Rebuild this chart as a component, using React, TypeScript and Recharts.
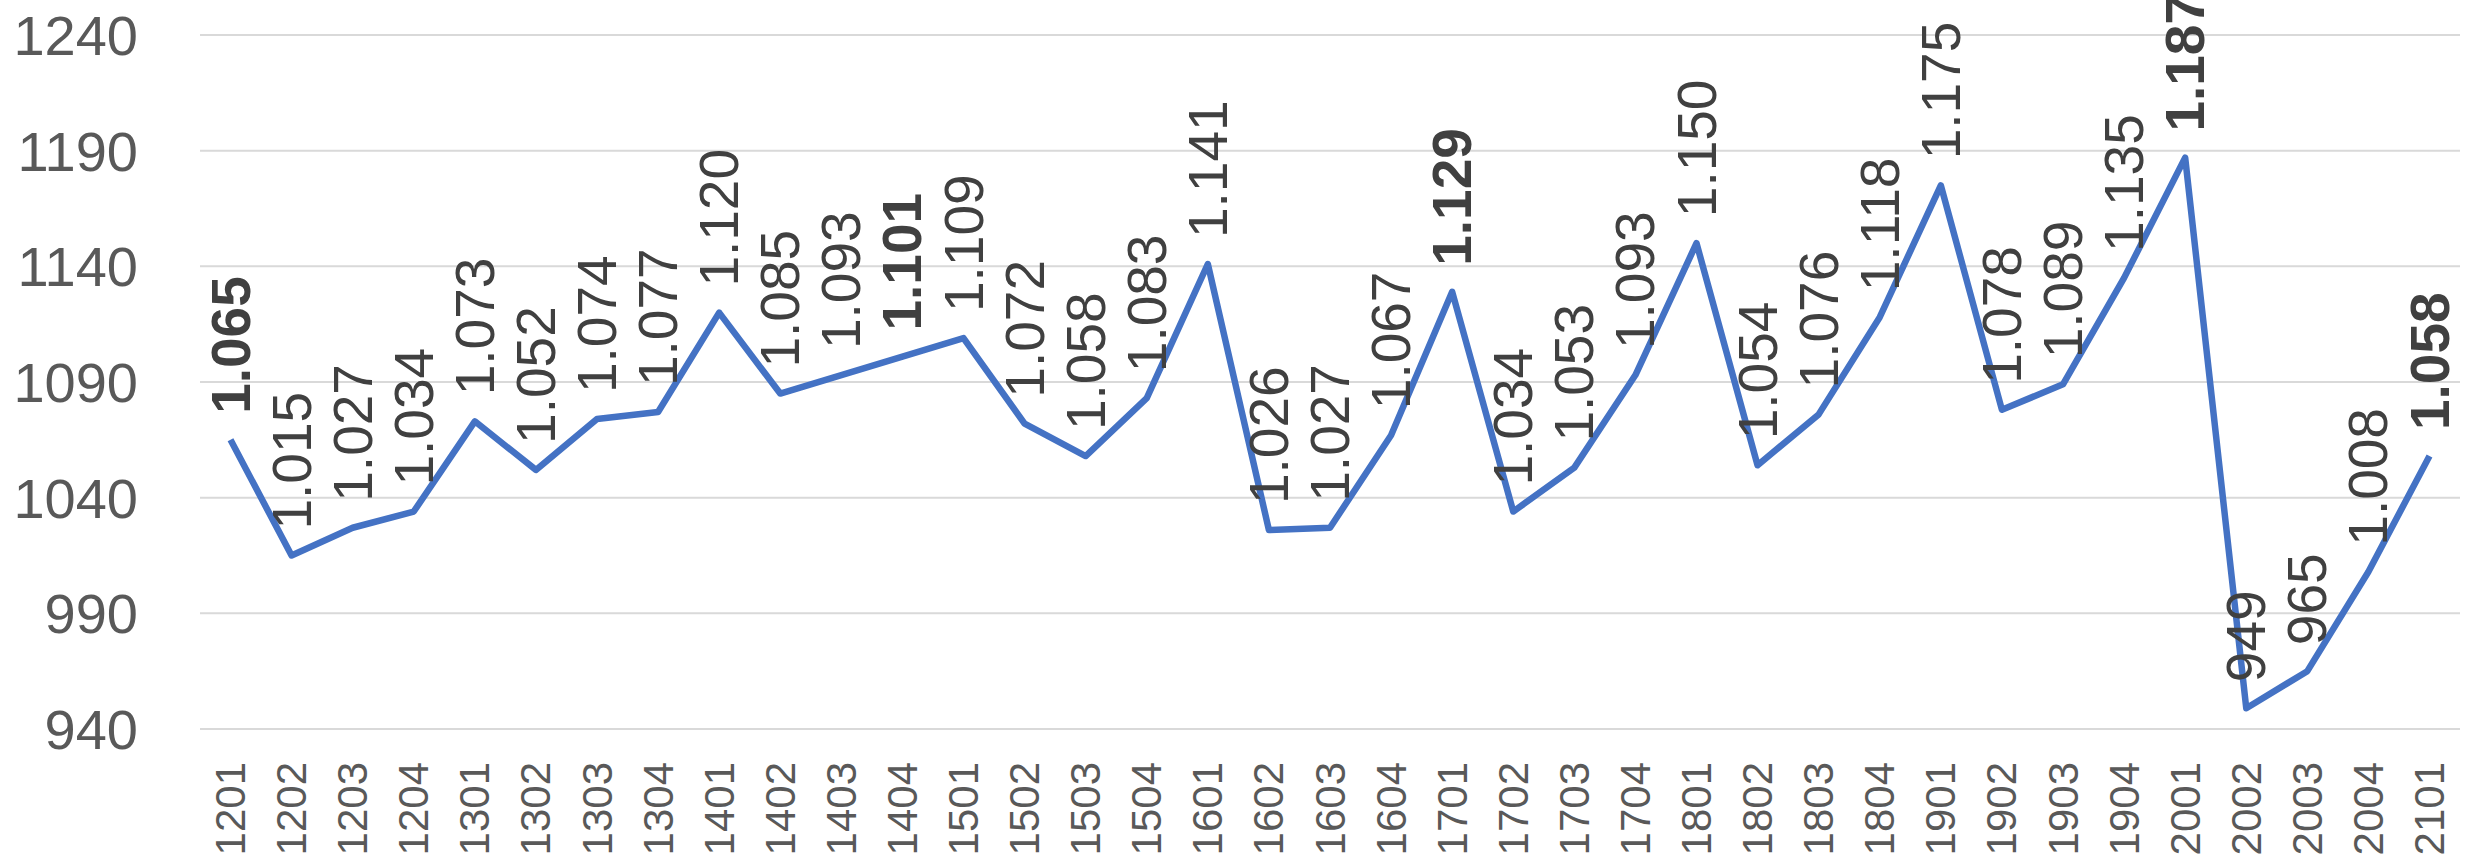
import { LineChart, Line, XAxis, YAxis, CartesianGrid, LabelList } from "recharts";

// 期間コード (YYMM風)
const periods = [
  "1201", "1202", "1203", "1204",
  "1301", "1302", "1303", "1304",
  "1401", "1402", "1403", "1404",
  "1501", "1502", "1503", "1504",
  "1601", "1602", "1603", "1604",
  "1701", "1702", "1703", "1704",
  "1801", "1802", "1803", "1804",
  "1901", "1902", "1903", "1904",
  "2001", "2002", "2003", "2004",
  "2101",
];

const values = [
  1065, 1015, 1027, 1034,
  1073, 1052, 1074, 1077,
  1120, 1085, 1093, 1101,
  1109, 1072, 1058, 1083,
  1141, 1026, 1027, 1067,
  1129, 1034, 1053, 1093,
  1150, 1054, 1076, 1118,
  1175, 1078, 1089, 1135,
  1187, 949, 965, 1008,
  1058,
];

// 太字ラベルの期間
const boldPeriods = ["1201", "1404", "1701", "2001", "2101"];

const yTicks = [940, 990, 1040, 1090, 1140, 1190, 1240];

const data = periods.map((p, i) => ({ period: p, value: values[i] }));

const FONT = '"Liberation Sans", Arial, sans-serif';

// 1.065 のようなドイツ式区切り
const fmt = (v: number) =>
  v >= 1000 ? `${Math.floor(v / 1000)}.${String(v % 1000).padStart(3, "0")}` : String(v);

const XTick = (props: any) => {
  const { x, y, payload } = props;
  return (
    <text
      x={0}
      y={0}
      transform={`translate(${x},${y + 33}) rotate(-90)`}
      textAnchor="end"
      dominantBaseline="central"
      fontSize={42}
      fontFamily={FONT}
      fill="#595959"
    >
      {payload.value}
    </text>
  );
};

const ValueLabel = (props: any) => {
  const { x, y, value, index } = props;
  const bold = boldPeriods.includes(periods[index]);
  return (
    <text
      x={0}
      y={0}
      transform={`translate(${x},${y - 26}) rotate(-90)`}
      textAnchor="start"
      dominantBaseline="central"
      fontSize={55}
      fontWeight={bold ? "bold" : "normal"}
      fontFamily={FONT}
      fill="#404040"
    >
      {fmt(value)}
    </text>
  );
};

export default function App() {
  return (
    <div style={{ position: "absolute", left: 0, top: 0, background: "#fff" }}>
      <LineChart
        width={2465}
        height={857}
        data={data}
        margin={{ top: 35, right: 5, bottom: 0, left: 0 }}
      >
        <CartesianGrid horizontal vertical={false} stroke="#D9D9D9" strokeWidth={2} />
        <XAxis
          dataKey="period"
          interval={0}
          height={128}
          axisLine={false}
          tickLine={false}
          tickSize={0}
          tickMargin={0}
          padding={{ left: 30.5, right: 30.5 }}
          tick={<XTick />}
        />
        <YAxis
          domain={[940, 1240]}
          ticks={yTicks}
          width={200}
          axisLine={false}
          tickLine={false}
          tickSize={0}
          tickMargin={62}
          tick={{ fontSize: 56, fill: "#595959", fontFamily: FONT }}
        />
        <Line
          type="linear"
          dataKey="value"
          stroke="#4472C4"
          strokeWidth={6.5}
          strokeLinejoin="round"
          dot={false}
          isAnimationActive={false}
        >
          <LabelList dataKey="value" content={<ValueLabel />} />
        </Line>
      </LineChart>
    </div>
  );
}
